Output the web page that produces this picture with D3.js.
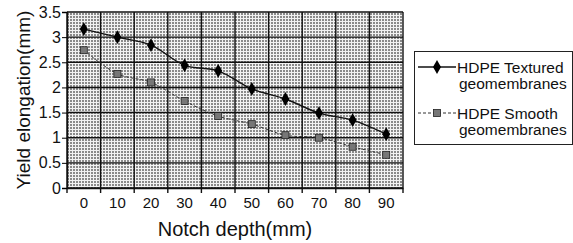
<!DOCTYPE html>
<html>
<head>
<meta charset="utf-8">
<script src="https://cdn.jsdelivr.net/npm/d3@7"></script>
<style>
  body { margin: 0; background: #fff; }
  svg { display: block; font-family: Arial, "Liberation Sans", sans-serif; }
</style>
</head>
<body>
<div id="chart"></div>
<script>
const width = 573;
const height = 243;

// dati
const depths = [0, 10, 20, 30, 40, 50, 60, 70, 80, 90];
const textured = [3.16, 3.0, 2.84, 2.44, 2.33, 1.97, 1.77, 1.49, 1.35, 1.07];
const smooth = [2.74, 2.27, 2.1, 1.73, 1.43, 1.27, 1.05, 1.0, 0.82, 0.66];
const yTicks = [0, 0.5, 1, 1.5, 2, 2.5, 3, 3.5];
const seriesNames = [["HDPE Textured", "geomembranes"], ["HDPE Smooth", "geomembranes"]];

const m = { left: 67, top: 12, right: 403, bottom: 188 };

const svg = d3.select("#chart").append("svg")
    .attr("width", width)
    .attr("height", height);

// texture di sfondo (retino grigio)
const pat = svg.append("defs").append("pattern")
    .attr("id", "tex")
    .attr("width", 3).attr("height", 3)
    .attr("patternUnits", "userSpaceOnUse");
pat.append("rect").attr("width", 3).attr("height", 3).attr("fill", "#8a8a8a");
pat.append("rect").attr("width", 3).attr("height", 1).attr("fill", "#f2f2f2");
pat.append("rect").attr("width", 1).attr("height", 3).attr("fill", "#f2f2f2");

const x = d3.scaleBand().domain(depths).range([m.left, m.right]);
const y = d3.scaleLinear().domain([0, 3.5]).range([m.bottom, m.top]);

svg.append("rect")
    .attr("x", m.left).attr("y", m.top)
    .attr("width", m.right - m.left).attr("height", m.bottom - m.top)
    .attr("fill", "url(#tex)");

// griglia orizzontale
svg.append("g").selectAll("line")
    .data(yTicks)
    .join("line")
    .attr("x1", m.left).attr("x2", m.right)
    .attr("y1", d => y(d)).attr("y2", d => y(d))
    .attr("stroke", "#111").attr("stroke-width", 1.4);

// griglia verticale sui confini delle categorie
const bounds = depths.map(d => x(d)).concat([m.right]);
svg.append("g").selectAll("line")
    .data(bounds)
    .join("line")
    .attr("x1", d => d).attr("x2", d => d)
    .attr("y1", m.top).attr("y2", m.bottom + 5)
    .attr("stroke", "#111").attr("stroke-width", 1.4);

// assi
const yAxis = svg.append("g")
    .attr("transform", `translate(${m.left},0)`)
    .call(d3.axisLeft(y).tickValues(yTicks).tickSize(5).tickPadding(1).tickFormat(d3.format("")));
yAxis.select(".domain").attr("stroke", "#111").attr("stroke-width", 1.4);
yAxis.selectAll("text").attr("font-size", 16).attr("fill", "#111");

const xAxis = svg.append("g")
    .attr("transform", `translate(0,${m.bottom})`)
    .call(d3.axisBottom(x).tickSize(0).tickPadding(9));
xAxis.select(".domain").attr("stroke", "#111").attr("stroke-width", 1.4);
xAxis.selectAll("text").attr("font-size", 15).attr("fill", "#111");

// titoli
svg.append("text")
    .attr("x", 235).attr("y", 236)
    .attr("text-anchor", "middle")
    .attr("font-size", 20).attr("fill", "#111")
    .text("Notch depth(mm)");

svg.append("text")
    .attr("transform", `translate(30,100) rotate(-90)`)
    .attr("text-anchor", "middle")
    .attr("font-size", 19).attr("fill", "#111")
    .text("Yield elongation(mm)");

const line = d3.line()
    .x((d, i) => x(depths[i]) + x.bandwidth() / 2)
    .y(d => y(d))
    .curve(d3.curveCatmullRom);

// serie Smooth
svg.append("path")
    .datum(smooth)
    .attr("d", line)
    .attr("fill", "none")
    .attr("stroke", "#333")
    .attr("stroke-width", 1)
    .attr("stroke-dasharray", "3,2");
svg.append("g").selectAll("rect")
    .data(smooth)
    .join("rect")
    .attr("x", (d, i) => x(depths[i]) + x.bandwidth() / 2 - 3.5)
    .attr("y", d => y(d) - 3.5)
    .attr("width", 7).attr("height", 7)
    .attr("fill", "#777").attr("stroke", "#222").attr("stroke-width", 0.8);

// serie Textured
svg.append("path")
    .datum(textured)
    .attr("d", line)
    .attr("fill", "none")
    .attr("stroke", "#111")
    .attr("stroke-width", 1.4);
const diamond = d3.symbol().type(d3.symbolDiamond).size(55);
svg.append("g").selectAll("path")
    .data(textured)
    .join("path")
    .attr("d", diamond)
    .attr("transform", (d, i) => `translate(${x(depths[i]) + x.bandwidth() / 2},${y(d)})`)
    .attr("fill", "#000");

// legenda
const lg = svg.append("g");
lg.append("rect")
    .attr("x", 414.5).attr("y", 51.5)
    .attr("width", 158).attr("height", 93)
    .attr("fill", "#fff").attr("stroke", "#222").attr("stroke-width", 1);

const rowY = [67, 113];
seriesNames.forEach((lbl, i) => {
    const ly = rowY[i];
    lg.append("line")
        .attr("x1", 418).attr("x2", 456)
        .attr("y1", ly).attr("y2", ly)
        .attr("stroke", i === 0 ? "#111" : "#333")
        .attr("stroke-width", i === 0 ? 1.4 : 1)
        .attr("stroke-dasharray", i === 0 ? null : "3,2");
    if (i === 0) {
        lg.append("path").attr("d", diamond)
            .attr("transform", `translate(437,${ly})`).attr("fill", "#000");
    } else {
        lg.append("rect")
            .attr("x", 433.5).attr("y", ly - 3.5)
            .attr("width", 7).attr("height", 7)
            .attr("fill", "#777").attr("stroke", "#222").attr("stroke-width", 0.8);
    }
    lg.append("text")
        .attr("x", 457).attr("y", ly + 5.5)
        .attr("font-size", 15.5).attr("fill", "#111")
        .text(lbl[0]);
    lg.append("text")
        .attr("x", 459).attr("y", ly + 22)
        .attr("font-size", 15.5).attr("fill", "#111")
        .text(lbl[1]);
});
</script>
</body>
</html>
